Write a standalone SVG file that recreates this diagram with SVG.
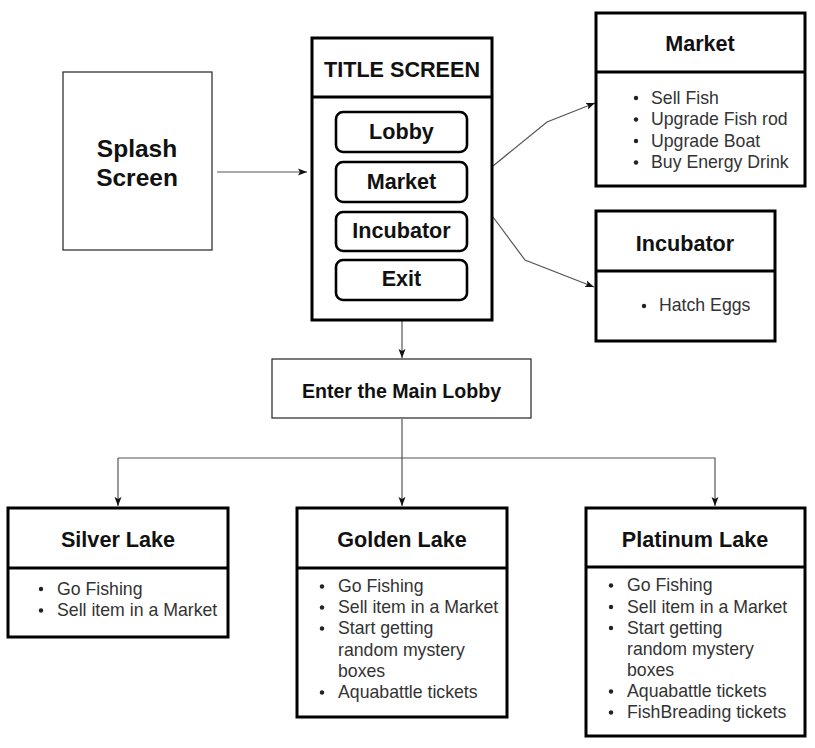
<svg xmlns="http://www.w3.org/2000/svg" width="815" height="748" viewBox="0 0 815 748">
<style>
text{font-family:"Liberation Sans",Arial,sans-serif}
.bg{fill:#fff}
.box{fill:#fff;stroke:#000;stroke-width:3}
.thin{fill:#fff;stroke:#222;stroke-width:1.2}
.btn{fill:#fff;stroke:#000;stroke-width:2.6}
.div{stroke:#000;stroke-width:3}
.t{font-weight:bold;font-size:21.6px;fill:#111;text-anchor:middle}
.b{font-size:17.7px;fill:#333}
.c{fill:none;stroke:#555;stroke-width:1.2}
</style>
<defs>
<marker id="ah" markerUnits="userSpaceOnUse" markerWidth="10" markerHeight="8" refX="9" refY="4" orient="auto">
<path d="M0,0.5 L9,4 L0,7.5 L2,4 Z" fill="#111"/>
</marker>
</defs>
<rect class="bg" width="815" height="748"/>
<g id="connectors">
<line class="c" x1="217" y1="172" x2="307" y2="172" marker-end="url(#ah)"/>
<polyline class="c" points="493,166 547,122 595,103" marker-end="url(#ah)"/>
<polyline class="c" points="493,217 525,260 594,287" marker-end="url(#ah)"/>
<line class="c" x1="402" y1="321" x2="402" y2="358" marker-end="url(#ah)"/>
<line class="c" x1="402" y1="419" x2="402" y2="506" marker-end="url(#ah)"/>
<polyline class="c" points="118,458 715,458 715,506" marker-end="url(#ah)"/>
<line class="c" x1="118" y1="458" x2="118" y2="506" marker-end="url(#ah)"/>
</g>
<g id="splash">
<rect class="thin" x="63" y="72" width="149" height="178"/>
<text x="137" y="157" style="font-weight:bold;font-size:24.5px;text-anchor:middle;fill:#111">Splash</text>
<text x="137" y="186" style="font-weight:bold;font-size:24.5px;text-anchor:middle;fill:#111">Screen</text>
</g>
<g id="title-screen">
<rect class="box" x="312" y="38" width="180" height="282"/>
<line class="div" x1="312" y1="97" x2="492" y2="97"/>
<text class="t" x="402" y="77">TITLE SCREEN</text>
<rect class="btn" x="336" y="112" width="131" height="40" rx="7"/>
<text class="t" x="401.5" y="139">Lobby</text>
<rect class="btn" x="336" y="162" width="131" height="40" rx="7"/>
<text class="t" x="401.5" y="189">Market</text>
<rect class="btn" x="336" y="212" width="131" height="39" rx="7"/>
<text class="t" x="401.5" y="238">Incubator</text>
<rect class="btn" x="336" y="260" width="131" height="40" rx="7"/>
<text class="t" x="401.5" y="286">Exit</text>
</g>
<g id="market">
<rect class="box" x="596" y="13" width="209" height="173"/>
<line class="div" x1="596" y1="72" x2="805" y2="72"/>
<text class="t" x="700" y="51">Market</text>
<g class="b">
<circle cx="636" cy="98" r="2.2" fill="#222"/><text x="651" y="103.5">Sell Fish</text>
<circle cx="636" cy="119.5" r="2.2" fill="#222"/><text x="651" y="125">Upgrade Fish rod</text>
<circle cx="636" cy="141" r="2.2" fill="#222"/><text x="651" y="146.5">Upgrade Boat</text>
<circle cx="636" cy="162.5" r="2.2" fill="#222"/><text x="651" y="168">Buy Energy Drink</text>
</g>
</g>
<g id="incubator">
<rect class="box" x="596" y="211" width="179" height="130"/>
<line class="div" x1="596" y1="271" x2="775" y2="271"/>
<text class="t" x="685" y="251">Incubator</text>
<circle cx="644" cy="306" r="2.2" fill="#222"/><text class="b" x="659" y="311">Hatch Eggs</text>
</g>
<g id="main-lobby">
<rect class="thin" x="272" y="359" width="259" height="59"/>
<text x="401.5" y="398" style="font-weight:bold;font-size:19.6px;text-anchor:middle;fill:#111">Enter the Main Lobby</text>
</g>
<g id="silver-lake">
<rect class="box" x="8" y="508" width="220" height="129"/>
<line class="div" x1="8" y1="568" x2="228" y2="568"/>
<text class="t" x="118" y="547">Silver Lake</text>
<circle cx="41" cy="589" r="2.2" fill="#222"/><text class="b" x="57" y="594.5">Go Fishing</text>
<circle cx="41" cy="610.5" r="2.2" fill="#222"/><text class="b" x="57" y="616">Sell item in a Market</text>
</g>
<g id="golden-lake">
<rect class="box" x="297" y="508" width="210" height="209"/>
<line class="div" x1="297" y1="568" x2="507" y2="568"/>
<text class="t" x="402" y="547">Golden Lake</text>
<circle cx="322" cy="586.5" r="2.2" fill="#222"/><text class="b" x="338" y="592">Go Fishing</text>
<circle cx="322" cy="607.5" r="2.2" fill="#222"/><text class="b" x="338" y="613">Sell item in a Market</text>
<circle cx="322" cy="628.5" r="2.2" fill="#222"/><text class="b" x="338" y="634">Start getting</text>
<text class="b" x="338" y="655.5">random mystery</text>
<text class="b" x="338" y="677">boxes</text>
<circle cx="322" cy="692.5" r="2.2" fill="#222"/><text class="b" x="338" y="698">Aquabattle tickets</text>
</g>
<g id="platinum-lake">
<rect class="box" x="586" y="508" width="219" height="228"/>
<line class="div" x1="586" y1="567" x2="805" y2="567"/>
<text class="t" x="695" y="547">Platinum Lake</text>
<circle cx="611" cy="585.5" r="2.2" fill="#222"/><text class="b" x="627" y="591">Go Fishing</text>
<circle cx="611" cy="607" r="2.2" fill="#222"/><text class="b" x="627" y="612.5">Sell item in a Market</text>
<circle cx="611" cy="628" r="2.2" fill="#222"/><text class="b" x="627" y="633.5">Start getting</text>
<text class="b" x="627" y="655">random mystery</text>
<text class="b" x="627" y="676">boxes</text>
<circle cx="611" cy="691.5" r="2.2" fill="#222"/><text class="b" x="627" y="697">Aquabattle tickets</text>
<circle cx="611" cy="712.5" r="2.2" fill="#222"/><text class="b" x="627" y="718">FishBreading tickets</text>
</g>
</svg>
